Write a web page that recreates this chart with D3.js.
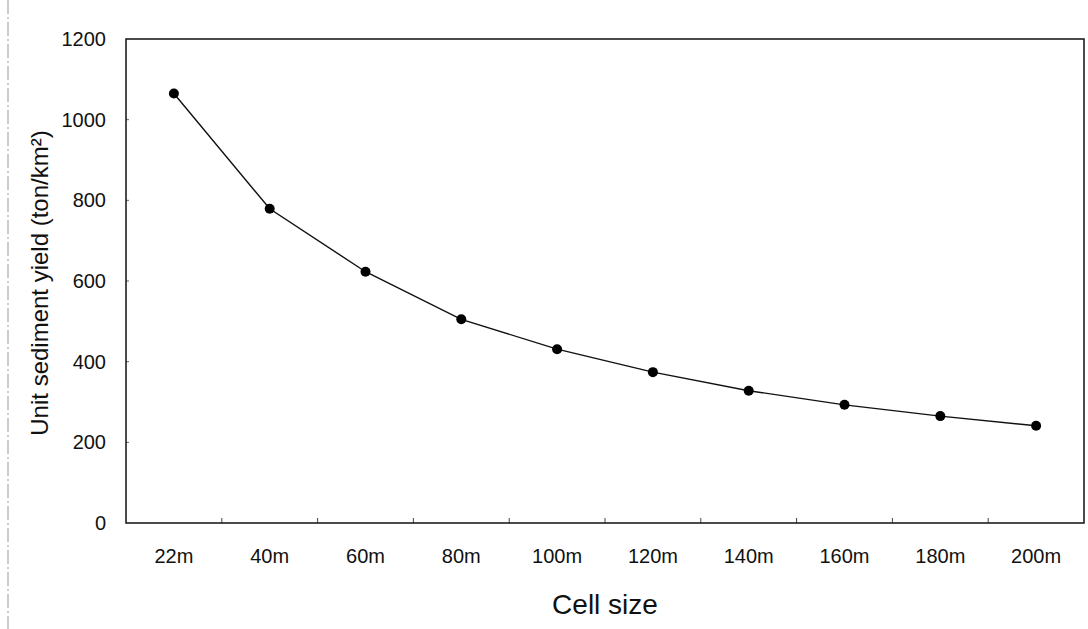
<!DOCTYPE html>
<html>
<head>
<meta charset="utf-8">
<script src="https://cdn.jsdelivr.net/npm/d3@7"></script>
<style>
    body { margin: 0; background: #fff; }
    svg { display: block; }
</style>
</head>
<body>
<div id="chart"></div>
<script>
var cellSizes = ["22m", "40m", "60m", "80m", "100m", "120m", "140m", "160m", "180m", "200m"];
var sedimentYield = [1065, 779, 623, 505, 431, 374, 328, 293, 265, 241];
var yTicks = [0, 200, 400, 600, 800, 1000, 1200];

var outerWidth = 1088;
var outerHeight = 629;
var margin = { left: 126, top: 39, right: 4, bottom: 106 };
var innerWidth  = outerWidth  - margin.left - margin.right;
var innerHeight = outerHeight - margin.top  - margin.bottom;
var fontFam = "'Liberation Sans', Arial, sans-serif";

var data = cellSizes.map(function (c, i) {
    return { cell: c, value: sedimentYield[i] };
});

var svg = d3.select('#chart').append('svg')
    .attr("width", outerWidth)
    .attr("height", outerHeight)
    .attr("font-family", fontFam);

// scan edge on the left side of the page
svg.append("line")
    .attr("x1", 8).attr("x2", 8)
    .attr("y1", 0).attr("y2", outerHeight)
    .attr("stroke", "#999")
    .attr("stroke-width", 1)
    .attr("stroke-dasharray", "14,3,2,3");

var g = svg.append("g")
    .attr("transform", "translate(" + margin.left + "," + margin.top + ")");

var xScale = d3.scaleBand().domain(cellSizes).range([0, innerWidth]).padding(0);
var yScale = d3.scaleLinear().domain([0, 1200]).range([innerHeight, 0]);

// x axis: labels under each band, small ticks between bands pointing up
var xAxis = d3.axisBottom(xScale).tickSize(0).tickPadding(26);
var xAxisG = g.append("g")
    .attr("transform", "translate(0," + innerHeight + ")")
    .call(xAxis)
    .attr("font-size", 20)
    .attr("font-family", fontFam);
xAxisG.select(".domain").remove();
xAxisG.selectAll("text").attr("fill", "#111");

g.selectAll(".xtick")
    .data(cellSizes.slice(1))
    .enter().append("line")
    .attr("class", "xtick")
    .attr("x1", function (d) { return xScale(d); })
    .attr("x2", function (d) { return xScale(d); })
    .attr("y1", innerHeight)
    .attr("y2", innerHeight - 5)
    .attr("stroke", "#444")
    .attr("stroke-width", 1);

// y axis with tiny inner ticks, plain numbers (no thousands comma)
var yAxis = d3.axisLeft(yScale)
    .tickValues(yTicks)
    .tickFormat(d3.format("d"))
    .tickSize(0)
    .tickPadding(20);
var yAxisG = g.append("g").call(yAxis)
    .attr("font-size", 20)
    .attr("font-family", fontFam);
yAxisG.select(".domain").remove();
yAxisG.selectAll("text").attr("fill", "#111");

g.selectAll(".ytick")
    .data(yTicks.slice(1, -1))
    .enter().append("line")
    .attr("class", "ytick")
    .attr("x1", 0)
    .attr("x2", 3)
    .attr("y1", function (d) { return yScale(d); })
    .attr("y2", function (d) { return yScale(d); })
    .attr("stroke", "#666")
    .attr("stroke-width", 1);

// plot frame
g.append("rect")
    .attr("x", 0).attr("y", 0)
    .attr("width", innerWidth)
    .attr("height", innerHeight)
    .attr("fill", "none")
    .attr("stroke", "#111")
    .attr("stroke-width", 1.5);

var line = d3.line()
    .x(function (d) { return xScale(d.cell) + xScale.bandwidth() / 2; })
    .y(function (d) { return yScale(d.value); });

g.append("path")
    .attr("fill", "none")
    .attr("stroke", "#111")
    .attr("stroke-width", 1.4)
    .attr("d", line(data));

g.selectAll(".dot")
    .data(data)
    .enter().append("circle")
    .attr("class", "dot")
    .attr("cx", function (d) { return xScale(d.cell) + xScale.bandwidth() / 2; })
    .attr("cy", function (d) { return yScale(d.value); })
    .attr("r", 5)
    .attr("fill", "#000");

// axis titles
svg.append("text")
    .attr("x", margin.left + innerWidth / 2)
    .attr("y", 614)
    .attr("text-anchor", "middle")
    .attr("font-size", 28)
    .attr("fill", "#111")
    .text("Cell size");

svg.append("text")
    .attr("transform", "translate(40," + 283 + ") rotate(-90)")
    .attr("text-anchor", "middle")
    .attr("dy", "0.35em")
    .attr("font-size", 24)
    .attr("fill", "#111")
    .text("Unit sediment yield (ton/km²)");
</script>
</body>
</html>
